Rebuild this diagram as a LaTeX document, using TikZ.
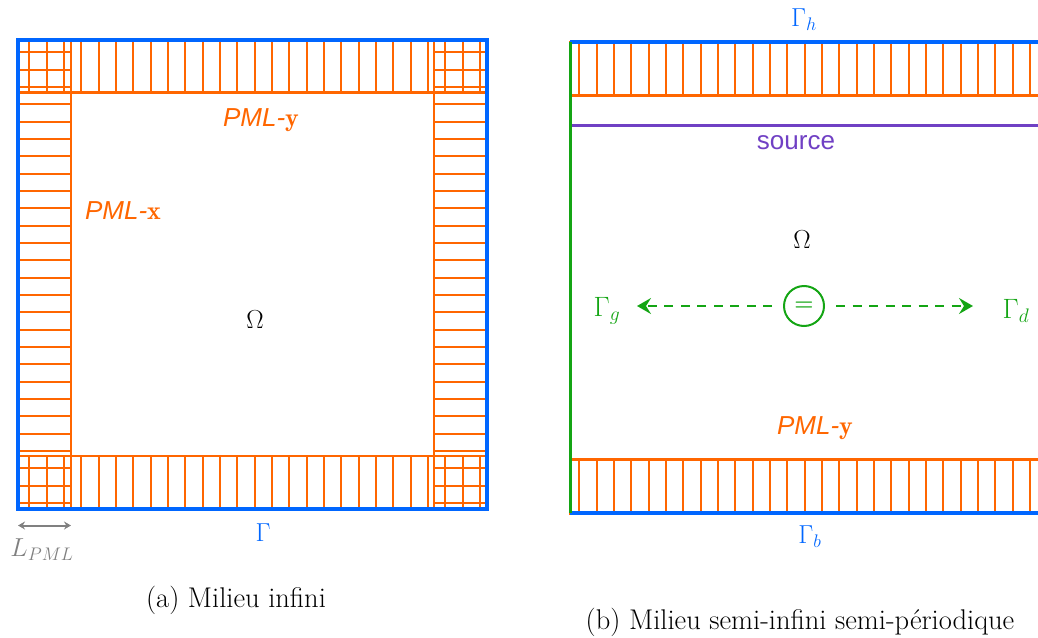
\RequirePackage{fix-cm}
\documentclass[tikz,border=0pt]{standalone}
\usepackage{fontspec}
\newfontfamily\hv{Liberation Sans}
\usetikzlibrary{arrows.meta}
\definecolor{pmlor}{RGB}{255,102,0}
\definecolor{bdblue}{RGB}{0,102,255}
\definecolor{pgreen}{RGB}{20,165,20}
\definecolor{srcpurple}{RGB}{112,64,196}
\definecolor{lgray}{RGB}{128,128,128}
\begin{document}
\begin{tikzpicture}[x=1pt,y=-1pt,
  every node/.style={font=\fontsize{26}{31}\selectfont, inner sep=0pt},
  hatch/.style={pmlor,line width=2pt},
  strip/.style={draw=pmlor,line width=2.5pt},
  border/.style={draw=bdblue,line width=4pt},
  perline/.style={draw=pgreen,line width=3pt},
  srcline/.style={draw=srcpurple,line width=3pt},
  pmllabel/.style={text=pmlor},
  bdlabel/.style={text=bdblue},
  grlabel/.style={text=pgreen,font=\fontsize{28}{33}\selectfont},
  dasharrow/.style={draw=pgreen,line width=2pt,dash pattern=on 9pt off 7.5pt,
     -{Stealth[length=14pt,width=16pt,inset=5pt]}},
  lenarrow/.style={draw=lgray,line width=2pt,{Stealth[length=7pt,width=8pt]}-{Stealth[length=7pt,width=8pt]}},
  caption/.style={text=black,font=\fontsize{28.5}{33}\selectfont}
]
\useasboundingbox (0,0) rectangle (1038,637);

% ---------- panel (a) ----------
\foreach \k in {0,...,26}{
  \pgfmathsetmacro\xx{29.3+17.33*\k}
  \draw[hatch] (\xx,40) -- (\xx,92.7);
  \draw[hatch] (\xx,456) -- (\xx,509);
  \pgfmathsetmacro\yy{52.3+17.33*\k}
  \draw[hatch] (18,\yy) -- (71,\yy);
  \draw[hatch] (434,\yy) -- (487,\yy);
}
\draw[strip] (18,40) rectangle (71,509);
\draw[strip] (434,40) rectangle (487,509);
\draw[strip] (18,40) rectangle (487,92.7);
\draw[strip] (18,456) rectangle (487,509);
\draw[border] (18,40) rectangle (487,509);

\node[pmllabel] (pmlya) at (261,120) {{\hv\itshape PML-}$\mathbf{y}$};
\node[pmllabel] (pmlxa) at (123,211) {{\hv\itshape PML-}$\mathbf{x}$};
\node (omegaa) at (255,320) {$\Omega$};
\node[bdlabel] (gammaa) at (263,533) {$\Gamma$};
\coordinate (la) at (18,525.5);
\coordinate (lb) at (71,525.5);
\draw[lenarrow] (la) -- (lb);
\node[text=lgray] (lpml) at (42,550) {$L_{PML}$};
\node[caption] (capa) at (236,600) {(a) Milieu infini};

% ---------- panel (b) ----------
\begin{scope}
\clip (0,0) rectangle (1038,637);
\foreach \k in {0,...,26}{
  \pgfmathsetmacro\xx{579.3+17.33*\k}
  \draw[hatch] (\xx,42) -- (\xx,95.7);
  \draw[hatch] (\xx,459.3) -- (\xx,513.3);
}
\draw[strip] (570,42) rectangle (1050,95.7);
\draw[strip] (570,459.3) rectangle (1050,513.3);
\draw[srcline] (570,125) -- (1050,125);
\draw[border] (570,42) -- (1050,42);
\draw[border] (570,513.3) -- (1050,513.3);
\draw[perline] (570,42) -- (570,513.3);
\end{scope}

\node[bdlabel] (gh) at (804,20) {$\Gamma_h$};
\node[bdlabel] (gb) at (810,537) {$\Gamma_b$};
\node[text=srcpurple] (src) at (796,143) {\hv source};
\node (omegab) at (802,240) {$\Omega$};
\node[pmllabel] (pmlyb) at (815,428) {{\hv\itshape PML-}$\mathbf{y}$};
\node[grlabel] (gg) at (607,311) {$\Gamma_g$};
\node[grlabel] (gd) at (1016,311) {$\Gamma_d$};
\node[circle,draw=pgreen,line width=2pt,minimum size=40pt,text=pgreen,
      font=\fontsize{22}{24}\selectfont\bfseries] (eq) at (804,306) {=};
\draw[dasharrow,shorten <=11pt] (eq.west) -- (eq.west -| 637,0);
\draw[dasharrow,shorten <=11pt] (eq.east) -- (eq.east -| 973,0);
\node[caption] (capb) at (800,622) {(b) Milieu semi-infini semi-périodique};
\end{tikzpicture}
\end{document}
